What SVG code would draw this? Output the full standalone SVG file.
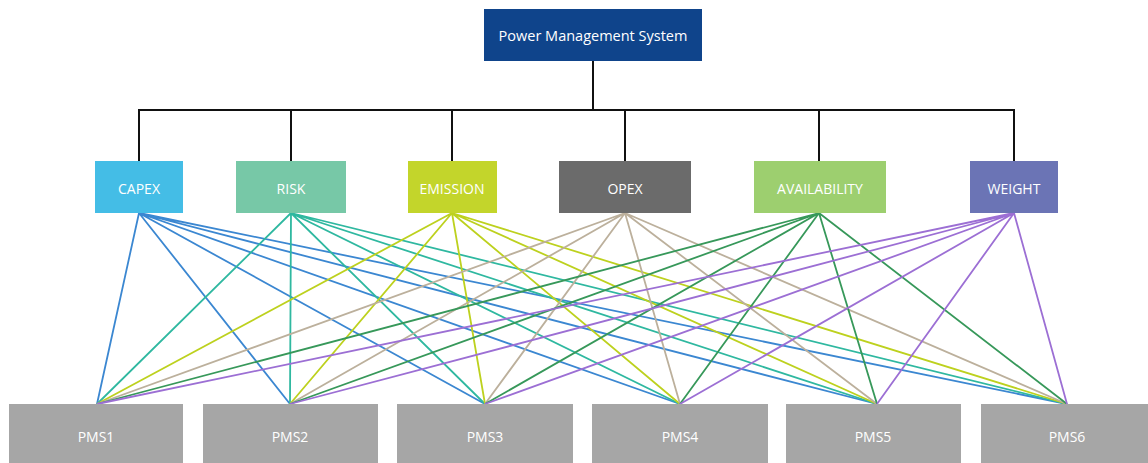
<svg xmlns="http://www.w3.org/2000/svg" width="1148" height="463" viewBox="0 0 1148 463">
<style>
text{font-family:"Open Sans","Noto Sans","Liberation Sans",sans-serif;fill:#fff;text-anchor:middle;dominant-baseline:central}
.t{font-size:14.5px}
.c{font-size:14px}
.p{font-size:14px}
.bus{stroke:#111;stroke-width:2;fill:none}
.l{stroke-width:1.8;fill:none}
.capex{stroke:#3b87d1}.risk{stroke:#2fb8a0}.emis{stroke:#bdd11e}.opex{stroke:#bcb09c}.avail{stroke:#37985a}.weight{stroke:#9c6fd4}
</style>
<rect width="1148" height="463" fill="#fff"/>
<g id="connectors">
<path class="bus" d="M593 61V110M139 161V110H1014V161M291 110V161M452 110V161M625 110V161M819 110V161"/>
<g class="l capex"><path d="M139 213L97 404M139 213L290 404M139 213L485 404M139 213L680 404M139 213L877 404M139 213L1067 404"/></g>
<g class="l risk"><path d="M291 213L97 404M291 213L290 404M291 213L485 404M291 213L680 404M291 213L877 404M291 213L1067 404"/></g>
<g class="l emis"><path d="M452 213L97 404M452 213L290 404M452 213L485 404M452 213L680 404M452 213L877 404M452 213L1067 404"/></g>
<g class="l opex"><path d="M625 213L97 404M625 213L290 404M625 213L485 404M625 213L680 404M625 213L877 404M625 213L1067 404"/></g>
<g class="l avail"><path d="M819 213L97 404M819 213L290 404M819 213L485 404M819 213L680 404M819 213L877 404M819 213L1067 404"/></g>
<g class="l weight"><path d="M1014 213L97 404M1014 213L290 404M1014 213L485 404M1014 213L680 404M1014 213L877 404M1014 213L1067 404"/></g>
</g>
<g id="pms-root"><rect x="484" y="9" width="218" height="52" fill="#0f448b"/><text class="t" x="593" y="35">Power Management System</text></g>
<g id="capex"><rect x="95" y="161" width="88" height="52" fill="#44bde6"/><text class="c" x="139" y="188">CAPEX</text></g>
<g id="risk"><rect x="236" y="161" width="110" height="52" fill="#77c8a7"/><text class="c" x="291" y="188">RISK</text></g>
<g id="emission"><rect x="408" y="161" width="89" height="52" fill="#c3d52b"/><text class="c" x="452" y="188">EMISSION</text></g>
<g id="opex"><rect x="559" y="161" width="132" height="52" fill="#6b6b6b"/><text class="c" x="625" y="188">OPEX</text></g>
<g id="availability"><rect x="754" y="161" width="132" height="52" fill="#9dcf6f"/><text class="c" x="820" y="188">AVAILABILITY</text></g>
<g id="weight"><rect x="970" y="161" width="88" height="52" fill="#6b74b5"/><text class="c" x="1014" y="188">WEIGHT</text></g>
<g id="pms1"><rect x="9" y="404" width="174" height="62" fill="#a6a6a6"/><text class="p" x="96" y="436">PMS1</text></g>
<g id="pms2"><rect x="203" y="404" width="175" height="62" fill="#a6a6a6"/><text class="p" x="290" y="436">PMS2</text></g>
<g id="pms3"><rect x="397" y="404" width="176" height="62" fill="#a6a6a6"/><text class="p" x="485" y="436">PMS3</text></g>
<g id="pms4"><rect x="592" y="404" width="176" height="62" fill="#a6a6a6"/><text class="p" x="680" y="436">PMS4</text></g>
<g id="pms5"><rect x="786" y="404" width="175" height="62" fill="#a6a6a6"/><text class="p" x="873" y="436">PMS5</text></g>
<g id="pms6"><rect x="981" y="404" width="176" height="62" fill="#a6a6a6"/><text class="p" x="1067" y="436">PMS6</text></g>
</svg>
